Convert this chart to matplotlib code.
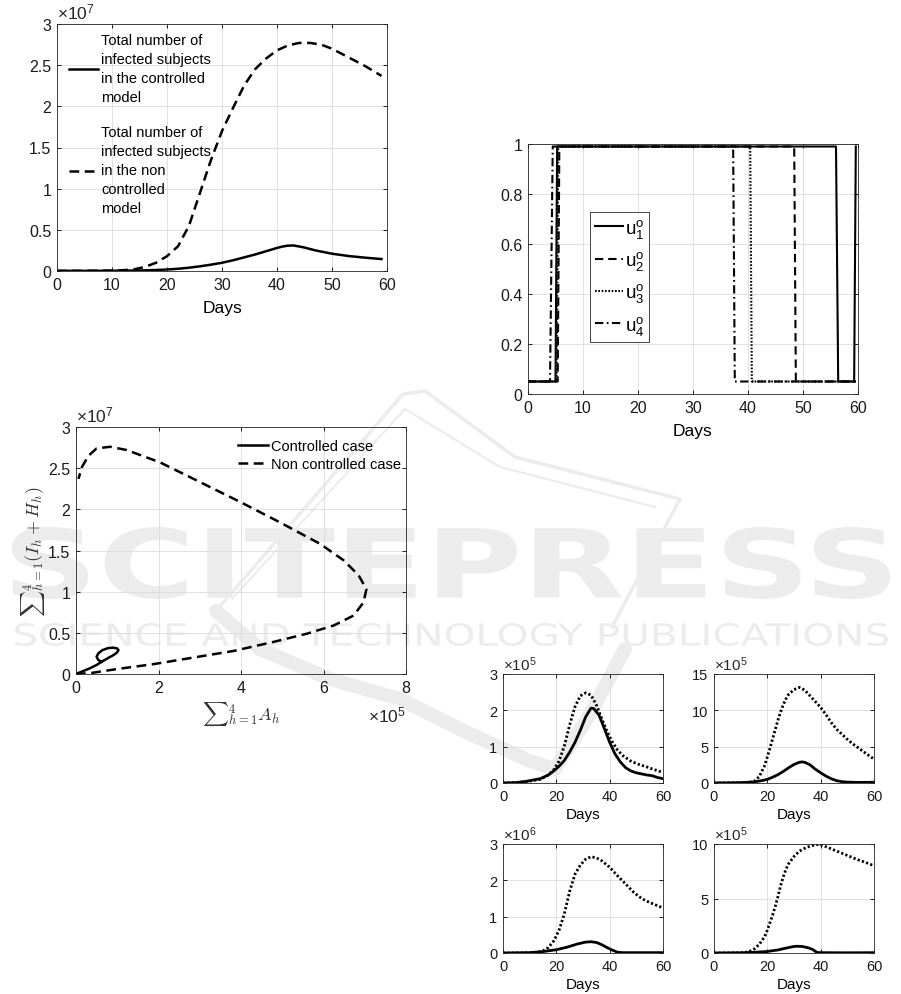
import numpy as np
import matplotlib.pyplot as plt
from matplotlib.ticker import FuncFormatter
from matplotlib.textpath import TextPath
from matplotlib.patches import PathPatch
from matplotlib.font_manager import FontProperties
from matplotlib.transforms import Affine2D
from matplotlib.lines import Line2D

plt.rcParams['font.family'] = ['Liberation Sans', 'DejaVu Sans']
plt.rcParams['mathtext.fontset'] = 'custom'
plt.rcParams['mathtext.rm'] = 'Liberation Sans'
plt.rcParams['mathtext.it'] = 'Liberation Sans:italic'
plt.rcParams['mathtext.bf'] = 'Liberation Sans:bold'
plt.rcParams['lines.scale_dashes'] = False

# ---- panel 1: total infected over time (values in units of 1e7) ----
days_ctrl = [0, 5, 10, 15, 18, 20, 22, 24, 26, 28, 30, 32, 34, 36, 38, 40, 41, 42, 43, 44, 45, 47, 50, 53, 56, 59]
infected_ctrl = [0.002, 0.002, 0.003, 0.006, 0.012, 0.018, 0.027, 0.04, 0.057, 0.077, 0.1, 0.13, 0.165, 0.2,
                 0.24, 0.28, 0.297, 0.308, 0.31, 0.298, 0.285, 0.25, 0.21, 0.182, 0.162, 0.145]
days_free = [0, 5, 10, 12, 14, 16, 18, 20, 22, 24, 26, 28, 30, 32, 34, 36, 38, 40, 42, 44, 46, 48, 50, 52, 54, 56, 58, 59]
infected_free = [0.001, 0.002, 0.005, 0.01, 0.02, 0.05, 0.1, 0.18, 0.3, 0.55, 0.95, 1.35, 1.7, 1.98, 2.25, 2.45,
                 2.58, 2.68, 2.74, 2.77, 2.77, 2.75, 2.7, 2.63, 2.56, 2.49, 2.41, 2.37]

# ---- panel 2: optimal controls (switching profiles) ----
u1_t = [0, 5.0, 5.3, 56.0, 56.4, 59.3, 59.6]
u1_v = [0.05, 0.05, 0.99, 0.99, 0.05, 0.05, 0.99]
u2_t = [0, 5.4, 5.7, 48.4, 48.7, 59.6]
u2_v = [0.05, 0.05, 0.99, 0.99, 0.05, 0.05]
u3_t = [0, 5.2, 5.5, 40.4, 40.7, 59.6]
u3_v = [0.05, 0.05, 0.99, 0.99, 0.05, 0.05]
u4_t = [0, 4.0, 4.5, 37.3, 37.6, 59.6]
u4_v = [0.05, 0.05, 0.99, 0.99, 0.05, 0.05]

# ---- panel 3: phase plane (x in 1e5, y in 1e7) ----
phase_ctrl_x = [0, 0.17, 0.34, 0.5, 0.66, 0.8, 0.91, 0.99, 1.03, 1.0, 0.9, 0.78, 0.64, 0.54, 0.5, 0.54, 0.62]
phase_ctrl_y = [0, 0.035, 0.07, 0.11, 0.16, 0.2, 0.23, 0.26, 0.29, 0.31, 0.32, 0.315, 0.29, 0.25, 0.21, 0.17, 0.15]
phase_free_x = [0, 0.34, 0.99, 1.88, 2.85, 3.82, 4.79, 5.6, 6.25, 6.73, 6.97, 7.04, 6.85, 6.49, 5.92, 4.95,
                3.98, 3.01, 2.04, 1.23, 0.83, 0.5, 0.3, 0.14, 0.06]
phase_free_y = [0, 0.01, 0.06, 0.12, 0.2, 0.28, 0.39, 0.49, 0.59, 0.71, 0.87, 1.03, 1.2, 1.38, 1.58, 1.84,
                2.09, 2.33, 2.57, 2.72, 2.76, 2.74, 2.65, 2.51, 2.37]

# ---- small panels: controlled (solid) vs non controlled (dotted) ----
tl_t_c = [0, 5, 9, 14, 17, 19, 21, 23, 25, 27, 29, 31, 33, 34, 36, 38, 40, 42, 44, 46, 48, 50, 52, 54, 56, 58, 60]
tl_c = [0, 0.01, 0.05, 0.12, 0.22, 0.33, 0.46, 0.62, 0.85, 1.12, 1.45, 1.82, 2.06, 2.05, 1.87, 1.5, 1.12, 0.8,
        0.58, 0.42, 0.33, 0.28, 0.25, 0.22, 0.2, 0.15, 0.12]
tl_t_f = [0, 5, 9, 14, 17, 19, 21, 23, 25, 27, 29, 31, 33, 35, 37, 39, 41, 43, 45, 48, 51, 54, 57, 60]
tl_f = [0, 0.01, 0.04, 0.1, 0.22, 0.36, 0.6, 1.02, 1.6, 2.1, 2.4, 2.48, 2.42, 2.15, 1.78, 1.42, 1.13, 0.9, 0.75,
        0.6, 0.51, 0.44, 0.36, 0.29]

tr_t_c = [0, 10, 15, 18, 20, 22, 24, 26, 28, 30, 32, 33, 34, 36, 38, 40, 42, 44, 46, 48, 50, 54, 60]
tr_c = [0, 0.05, 0.15, 0.33, 0.5, 0.8, 1.15, 1.6, 2.1, 2.55, 2.85, 2.9, 2.85, 2.5, 1.9, 1.4, 0.95, 0.58, 0.32,
        0.18, 0.12, 0.08, 0.1]
tr_t_f = [0, 10, 13, 15, 17, 19, 20, 21, 22, 23, 24, 25, 26, 27, 28, 30, 32, 34, 36, 38, 40, 42, 44, 46, 48, 50,
          52, 55, 58, 60]
tr_f = [0, 0.02, 0.08, 0.2, 0.9, 2.4, 3.6, 4.8, 6.1, 7.4, 8.7, 9.8, 10.8, 11.6, 12.2, 12.85, 13.15, 12.8, 12.0,
        11.2, 10.4, 9.4, 8.3, 7.4, 6.7, 6.0, 5.4, 4.6, 3.8, 3.3]

bl_t_c = [0, 10, 15, 20, 24, 28, 31, 33, 35, 37, 39, 41, 43, 45, 50, 55, 60]
bl_c = [0, 0.01, 0.04, 0.09, 0.16, 0.25, 0.3, 0.31, 0.29, 0.23, 0.15, 0.08, 0.02, 0.01, 0.01, 0.01, 0.01]
bl_t_f = [0, 10, 13, 15, 17, 19, 21, 23, 25, 27, 29, 31, 33, 35, 37, 40, 43, 46, 49, 52, 55, 58, 60]
bl_f = [0, 0.005, 0.02, 0.06, 0.15, 0.33, 0.62, 1.08, 1.7, 2.17, 2.42, 2.58, 2.65, 2.62, 2.54, 2.36, 2.12, 1.9,
        1.67, 1.5, 1.39, 1.3, 1.24]

br_t_c = [0, 10, 15, 20, 24, 27, 30, 31, 33, 35, 37, 38, 38.7, 40, 50, 60]
br_c = [0, 0.02, 0.06, 0.14, 0.28, 0.45, 0.6, 0.62, 0.6, 0.5, 0.33, 0.15, 0.05, 0.03, 0.02, 0.03]
br_t_f = [0, 10, 13, 15, 17, 19, 20, 21, 22, 23, 24, 25, 26, 27, 28, 30, 32, 34, 36, 38, 39.5, 42, 45, 48, 51,
          54, 57, 60]
br_f = [0, 0.02, 0.1, 0.35, 0.8, 1.5, 2.1, 2.8, 3.5, 4.3, 5.2, 6.2, 7.0, 7.7, 8.2, 8.85, 9.35, 9.6, 9.8, 9.93,
        9.97, 9.75, 9.45, 9.15, 8.85, 8.55, 8.3, 8.0]

W, H = 901, 995
fig = plt.figure(figsize=(W / 100, H / 100), dpi=100)
wm = '#ececec'


def px_rect(l, t, r, b):
    return [l / W, 1 - b / H, (r - l) / W, (b - t) / H]


def stamp(text, box, weight='bold'):
    # watermark text stretched into a pixel box
    tp = TextPath((0, 0), text, size=100, prop=FontProperties(family='DejaVu Sans', weight=weight))
    ext = tp.get_extents()
    l, t, r, b = box
    tr = (Affine2D().translate(-ext.x0, -ext.y0)
          .scale((r - l) / ext.width / W, (b - t) / ext.height / H)
          .translate(l / W, 1 - b / H))
    fig.add_artist(PathPatch(tr.transform_path(tp), transform=fig.transFigure, fc=wm, ec='none', zorder=-1))


def stroke(pts, lw):
    xs = [p[0] / W for p in pts]
    ys = [1 - p[1] / H for p in pts]
    fig.add_artist(Line2D(xs, ys, transform=fig.transFigure, color=wm, lw=lw, zorder=-1,
                          solid_capstyle='round', solid_joinstyle='round'))


# watermark
stroke([(216, 612), (403, 395), (425, 392), (515, 458), (680, 500), (612, 628)], 2.5)
stroke([(232, 600), (405, 410), (500, 468), (655, 508)], 1.5)
stroke([(216, 612), (260, 650), (330, 680), (400, 700), (470, 735), (530, 762), (555, 770), (590, 715), (625, 650)], 10)
stamp('SCITEPRESS', (12, 528, 890, 600))
stamp('SCIENCE AND TECHNOLOGY PUBLICATIONS', (15, 624, 888, 647), weight='normal')

fmt = FuncFormatter(lambda v, p: f'{v:g}')


def style(ax, fs):
    ax.set_facecolor('none')
    ax.grid(True, color='#dcdcdc', lw=0.6)
    ax.set_axisbelow(True)
    for s in ax.spines.values():
        s.set_color('#262626')
        s.set_linewidth(0.6)
    ax.tick_params(direction='in', top=True, right=True, length=3, width=0.6, labelsize=fs, pad=4,
                   labelcolor='#1a1a1a')
    ax.xaxis.set_major_formatter(fmt)
    ax.yaxis.set_major_formatter(fmt)


def exp_label(ax, n, fs):
    ax.text(0.0, 1.01, rf'$\times\mathregular{{10^{{{n}}}}}$', transform=ax.transAxes, ha='left', va='bottom',
            fontsize=fs, color='#262626')


# panel 1
ax1 = fig.add_axes(px_rect(57, 25, 387, 272))
style(ax1, 11.5)
ax1.plot(days_ctrl, infected_ctrl, color='k', lw=1.8,
         label='Total number of\ninfected subjects\nin the controlled\nmodel')
ax1.plot(days_free, infected_free, color='k', lw=1.8, dashes=(7, 4),
         label='Total number of\ninfected subjects\nin the non\ncontrolled\nmodel')
ax1.set_xlim(0, 60)
ax1.set_ylim(0, 3)
ax1.set_xticks(range(0, 61, 10))
ax1.set_yticks([0, 0.5, 1, 1.5, 2, 2.5, 3])
ax1.set_xlabel('Days', fontsize=12.5, labelpad=6)
exp_label(ax1, 7, 12.5)
leg1 = ax1.legend(loc='upper left', bbox_to_anchor=(0.035, 0.962), frameon=False, fontsize=10.5,
                  handlelength=2.0, handletextpad=0.25, labelspacing=1.45, borderaxespad=0, borderpad=0)
for t in leg1.get_texts():
    t.set_linespacing(1.45)

# panel 2
ax2 = fig.add_axes(px_rect(528, 145, 858, 395))
style(ax2, 11.5)
ax2.plot(u1_t, u1_v, color='k', lw=1.5, label=r'$\mathregular{u_1^o}$')
ax2.plot(u2_t, u2_v, color='k', lw=1.5, dashes=(6, 3.5), label=r'$\mathregular{u_2^o}$')
ax2.plot(u3_t, u3_v, color='k', lw=1.5, dashes=(1.2, 1.2), label=r'$\mathregular{u_3^o}$')
ax2.plot(u4_t, u4_v, color='k', lw=1.5, dashes=(6, 2.5, 1.2, 2.5), label=r'$\mathregular{u_4^o}$')
ax2.set_xlim(0, 60)
ax2.set_ylim(0, 1)
ax2.set_xticks(range(0, 61, 10))
ax2.set_yticks([0, 0.2, 0.4, 0.6, 0.8, 1])
ax2.set_xlabel('Days', fontsize=12.5, labelpad=6)
leg2 = ax2.legend(loc='upper left', bbox_to_anchor=(0.188, 0.728), fontsize=13.5, handlelength=1.5,
                  handletextpad=0.1, labelspacing=0.5, borderaxespad=0, borderpad=0.25,
                  fancybox=False, edgecolor='#262626', framealpha=1)
leg2.get_frame().set_linewidth(0.6)

# panel 3
ax3 = fig.add_axes(px_rect(76, 428, 406, 675))
style(ax3, 11.5)
ax3.plot(phase_ctrl_x, phase_ctrl_y, color='k', lw=1.8, label='Controlled case')
ax3.plot(phase_free_x, phase_free_y, color='k', lw=1.8, dashes=(7, 4), label='Non controlled case')
ax3.set_xlim(0, 8)
ax3.set_ylim(0, 3)
ax3.set_xticks([0, 2, 4, 6, 8])
ax3.set_yticks([0, 0.5, 1, 1.5, 2, 2.5, 3])
ax3.set_xlabel(r'${\sum}_{h=1}^{4} A_h$', fontsize=13, math_fontfamily='cm', labelpad=3, color='#333333')
ax3.set_ylabel(r'${\sum}_{h=1}^{4}(I_h + H_h)$', fontsize=13, math_fontfamily='cm', labelpad=1, color='#333333')
exp_label(ax3, 7, 12.5)
ax3.text(1.0, -0.125, r'$\times\mathregular{10^{5}}$', transform=ax3.transAxes, ha='right', va='top',
         fontsize=12.5, color='#262626')
ax3.legend(loc='upper right', bbox_to_anchor=(0.985, 0.95), frameon=False, fontsize=10.5,
           handlelength=2.1, handletextpad=0.2, labelspacing=0.25, borderaxespad=0, borderpad=0)

# small panels
small = [
    (px_rect(503, 675, 663, 784), tl_t_c, tl_c, tl_t_f, tl_f, 3, [0, 1, 2, 3], 5),
    (px_rect(714, 675, 874, 784), tr_t_c, tr_c, tr_t_f, tr_f, 15, [0, 5, 10, 15], 5),
    (px_rect(503, 845, 663, 954), bl_t_c, bl_c, bl_t_f, bl_f, 3, [0, 1, 2, 3], 6),
    (px_rect(714, 845, 874, 954), br_t_c, br_c, br_t_f, br_f, 10, [0, 5, 10], 5),
]
for rect, tc, yc, tf, yf, top, yt, ex in small:
    ax = fig.add_axes(rect)
    style(ax, 10.5)
    ax.plot(tc, yc, color='k', lw=2.0)
    ax.plot(tf, yf, color='k', lw=2.0, dashes=(1.6, 1.6), dash_capstyle='butt')
    ax.set_xlim(0, 60)
    ax.set_ylim(0, top)
    ax.set_xticks([0, 20, 40, 60])
    ax.set_yticks(yt)
    ax.set_xlabel('Days', fontsize=11, labelpad=3)
    exp_label(ax, ex, 11)

fig.savefig('out.png', dpi=100)
